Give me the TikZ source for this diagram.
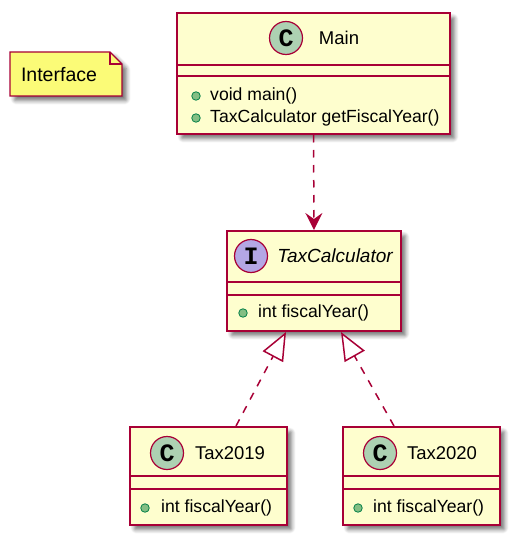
\documentclass[tikz,border=0pt]{standalone}
\usepackage{fontspec}
\setmainfont{Liberation Sans}
\newfontfamily\monofont{Liberation Mono}
\usetikzlibrary{arrows.meta,shadows.blur,calc}
\definecolor{boxfill}{HTML}{FEFECE}
\definecolor{border}{HTML}{A80036}
\definecolor{cgreen}{HTML}{ADD1B2}
\definecolor{ipurple}{HTML}{B4A7E5}
\definecolor{notefill}{HTML}{FBFB77}
\definecolor{bulletfill}{HTML}{84BE84}
\definecolor{bulletdraw}{HTML}{038048}
\tikzset{
  shad/.style={blur shadow={shadow xshift=4.5pt,shadow yshift=-4.5pt,shadow blur steps=6,shadow opacity=55,shadow blur radius=4pt,shadow blur extra rounding=1pt}},
  classbox/.style={draw=border,fill=boxfill,line width=2pt,rectangle,inner sep=0pt,anchor=north west,shad},
  sep/.style={draw=border,line width=2pt},
  badge/.style={circle,draw=border,line width=1.2pt,minimum size=33pt,inner sep=0pt,font=\monofont\bfseries\fontsize{25}{25}\selectfont},
  cname/.style={font=\fontsize{18.5}{20}\selectfont,inner sep=0pt},
  member/.style={font=\fontsize{17.6}{18}\selectfont,inner sep=0pt,anchor=west},
  bullet/.style={circle,fill=bulletfill,draw=bulletdraw,line width=0.8pt,minimum size=8.5pt,inner sep=0pt},
  conn/.style={draw=border,line width=1.5pt,dash pattern=on 7.5pt off 7.5pt},
}
\begin{document}
\begin{tikzpicture}[x=1pt,y=-1pt]
\useasboundingbox (0,0) rectangle (515,540);
% note
\path[draw=border,fill=notefill,line width=1.2pt,shad] (10,52) -- (110,52) -- (122,64) -- (122,96) -- (10,96) -- cycle;
\draw[border,line width=1.2pt] (110,52) -- (110,64) -- (122,64);
\node[font=\fontsize{19.5}{20}\selectfont,inner sep=0pt] (note) at (59,75) {Interface};
% Main
\node[classbox,minimum width=273pt,minimum height=121pt] (main) at (176,12) {};
\draw[sep] (main.west |- 0,65) -- (main.east |- 0,65);
\draw[sep] (main.west |- 0,76) -- (main.east |- 0,76);
\node[badge,fill=cgreen] (mainc) at (286,38) {C};
\node[cname] (mainn) at (339,38) {Main};
\node[bullet] (mb1) at (196,96) {};
\node[member] (mm1) at (210,96) {void main()};
\node[bullet] (mb2) at (196,118) {};
\node[member] (mm2) at (210,118) {TaxCalculator getFiscalYear()};
% TaxCalculator
\node[classbox,minimum width=174pt,minimum height=100pt] (taxc) at (226,230) {};
\draw[sep] (taxc.west |- 0,282) -- (taxc.east |- 0,282);
\draw[sep] (taxc.west |- 0,295) -- (taxc.east |- 0,295);
\node[badge,fill=ipurple] (taxci) at (251,256) {I};
\node[cname,font=\fontsize{19}{20}\selectfont\itshape] (taxcn) at (335,256) {TaxCalculator};
\node[bullet] (tb1) at (243,313) {};
\node[member] (tm1) at (258,313) {int fiscalYear()};
% Tax2019
\node[classbox,minimum width=157pt,minimum height=98pt] (t19) at (129,426) {};
\draw[sep] (t19.west |- 0,476) -- (t19.east |- 0,476);
\draw[sep] (t19.west |- 0,489) -- (t19.east |- 0,489);
\node[badge,fill=cgreen] (t19c) at (167,453) {C};
\node[cname] (t19n) at (230,453) {Tax2019};
\node[bullet] (ab1) at (145,508) {};
\node[member] (am1) at (161,508) {int fiscalYear()};
% Tax2020
\node[classbox,minimum width=157pt,minimum height=98pt] (t20) at (342,426) {};
\draw[sep] (t20.west |- 0,476) -- (t20.east |- 0,476);
\draw[sep] (t20.west |- 0,489) -- (t20.east |- 0,489);
\node[badge,fill=cgreen] (t20c) at (380,453) {C};
\node[cname] (t20n) at (442,453) {Tax2020};
\node[bullet] (bb1) at (358,508) {};
\node[member] (bm1) at (373,508) {int fiscalYear()};
% connectors
\draw[conn,-{Stealth[length=17pt,width=17pt,inset=6pt,fill=border]}] (main.south) -- (taxc.north);
\draw[conn,-{Triangle[open,length=28pt,width=23pt,fill=white,line width=1.5pt]}] ([xshift=27.5pt]t19.north) -- ([xshift=-28pt]taxc.south);
\draw[conn,-{Triangle[open,length=28pt,width=23pt,fill=white,line width=1.5pt]}] ([xshift=-27.5pt]t20.north) -- ([xshift=27pt]taxc.south);
\end{tikzpicture}
\end{document}
